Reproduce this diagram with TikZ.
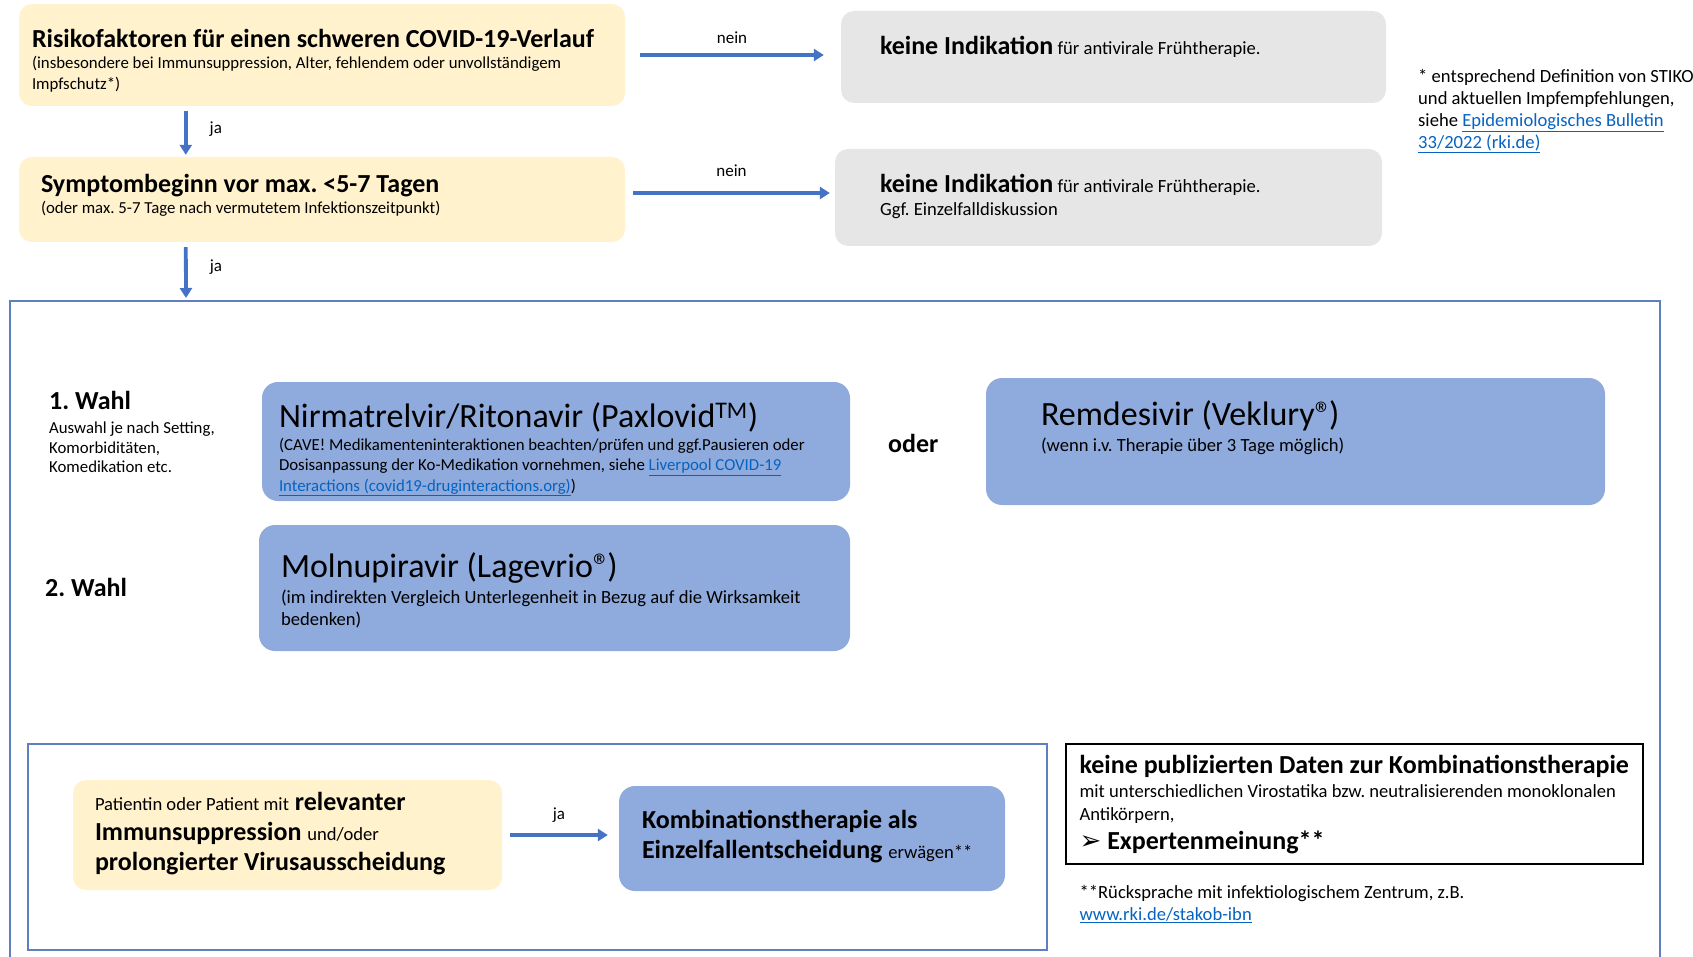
\documentclass[tikz,border=0pt]{standalone}
\usepackage{fontspec}
\setmainfont{Carlito}
\newfontfamily\symfont{DejaVu Sans}
\usepackage{pgf,tikz}
\usetikzlibrary{arrows.meta, positioning}
\frenchspacing
\definecolor{gelb}{HTML}{FFF2CC}
\definecolor{grau}{HTML}{E7E6E6}
\definecolor{hellblau}{HTML}{8FAADC}
\definecolor{pfeilblau}{HTML}{4472C4}
\definecolor{rahmenblau}{HTML}{5F7FC0}
\definecolor{linkblau}{HTML}{0563C1}
\newcommand{\klein}{\fontsize{16.8}{20.5}\selectfont}
\newcommand{\normal}{\fontsize{18.6}{22}\selectfont}
\newcommand{\mittel}{\fontsize{26}{30}\selectfont\bfseries}
\newcommand{\gross}{\fontsize{34}{40}\selectfont}
\newcommand{\verweis}[1]{\textcolor{linkblau}{\underline{#1}}}
\tikzstyle{gelbbox} = [fill=gelb, rounded corners=13pt, inner sep=0pt]
\tikzstyle{graubox} = [fill=grau, rounded corners=13pt, inner sep=0pt]
\tikzstyle{blaubox} = [fill=hellblau, rounded corners=16pt, inner sep=0pt]
\tikzstyle{txt} = [inner sep=0pt, anchor=west]
\tikzstyle{block} = [inner sep=0pt, anchor=north west, align=left]
\tikzstyle{pfeil} = [draw=pfeilblau, line width=3.8pt, -{Triangle[length=10pt, width=12pt]}]
\tikzstyle{rahmen} = [draw=rahmenblau, line width=1.2pt]
\tikzstyle{beschriftung} = [font=\fontsize{17}{20}\selectfont, inner sep=0pt]

\begin{document}
\begin{tikzpicture}[x=1pt, y=-1pt]
	\useasboundingbox (0,0) rectangle (1693,957);
	% Abfrage oben
	\node[gelbbox, minimum width=606pt, minimum height=102pt] (risk) at (322,55) {};
	\node[txt, font=\mittel] (risktitel) at ([shift={(13,35)}]risk.north west) {Risikofaktoren für einen schweren COVID-19-Verlauf};
	\node[block, font=\klein] (risksub) at ([shift={(13,52.5)}]risk.north west) {(insbesondere bei Immunsuppression, Alter, fehlendem oder unvollständigem\\Impfschutz*)};
	\node[gelbbox, minimum width=606pt, minimum height=85pt] (symp) at (322,199.5) {};
	\node[txt, font=\mittel] (symptitel) at ([shift={(22,29)}]symp.north west) {Symptombeginn vor max. <5-7 Tagen};
	\node[txt, font=\klein] (sympsub) at ([shift={(22,52)}]symp.north west) {(oder max. 5-7 Tage nach vermutetem Infektionszeitpunkt)};
	\node[graubox, minimum width=545pt, minimum height=92pt] (nein1) at (1113.5,57) {};
	\node[txt, font=\normal] (nein1txt) at ([shift={(39,36)}]nein1.north west) {{\mittel keine Indikation} für antivirale Frühtherapie.};
	\node[graubox, minimum width=547pt, minimum height=97pt] (nein2) at (1108.5,197.5) {};
	\node[txt, font=\normal] (nein2txt) at ([shift={(45,36)}]nein2.north west) {{\mittel keine Indikation} für antivirale Frühtherapie.};
	\node[txt, font=\normal] (nein2sub) at ([shift={(45,62)}]nein2.north west) {Ggf. Einzelfalldiskussion};
	\node[block, font=\normal] (stiko) at (1418,69) {* entsprechend Definition von STIKO\\und aktuellen Impfempfehlungen,\\siehe \verweis{Epidemiologisches Bulletin}\\\verweis{33/2022 (rki.de)}};
	\coordinate (wahloben) at (186,298);
	\draw[pfeil] ([shift={(167,5)}]risk.south west) -- ([shift={(167,-2)}]symp.north west) node[beschriftung, pos=0.4, right=22pt] (ja1) {ja};
	\draw[pfeil] ([shift={(167,5)}]symp.south west) -- (wahloben) node[beschriftung, pos=0.4, right=22pt] (ja2) {ja};
	\draw[pfeil] ([xshift=15pt]risk.east) -- ([xshift=-17pt]risk.east -| nein1.west) node[beschriftung, midway, above=9pt] (neinlab1) {nein};
	\draw[pfeil] ([shift={(8,-6.5)}]symp.east) -- ([shift={(-5,-6.5)}]symp.east -| nein2.west) node[beschriftung, midway, above=14pt] (neinlab2) {nein};
	% Therapie
	\draw[rahmen] (10,957) -- (10,301) -- (1660,301) -- (1660,957);
	\node[txt, font=\mittel] (wahl1) at (49,400) {1. Wahl};
	\node[block, font=\fontsize{16.8}{19.5}\selectfont] (wahl1sub) at (49,422) {Auswahl je nach Setting,\\Komorbiditäten,\\Komedikation etc.};
	\node[txt, font=\mittel] (wahl2) at (45,587) {2. Wahl};
	\node[blaubox, minimum width=588pt, minimum height=119pt] (pax) at (556,441.5) {};
	\node[txt, font=\gross] (paxtitel) at ([shift={(17,36)}]pax.north west) {Nirmatrelvir/Ritonavir (Paxlovid\textsuperscript{TM})};
	\node[block, font=\klein] (paxsub) at ([shift={(17,56)}]pax.north west) {(CAVE! Medikamenteninteraktionen beachten/prüfen und ggf.Pausieren oder\\Dosisanpassung der Ko-Medikation vornehmen, siehe \verweis{Liverpool COVID-19}\\\verweis{Interactions (covid19-druginteractions.org)})};
	\node[txt, font=\mittel] (oder) at (888,443) {oder};
	\node[blaubox, minimum width=619pt, minimum height=127pt] (remd) at (1295.5,441.5) {};
	\node[txt, font=\gross] (remdtitel) at ([shift={(55,38)}]remd.north west) {Remdesivir (Veklury®\kern-3pt)};
	\node[txt, font=\normal] (remdsub) at ([shift={(55,68)}]remd.north west) {(wenn i.v. Therapie über 3 Tage möglich)};
	\node[blaubox, minimum width=591pt, minimum height=126pt] (moln) at (554.5,588) {};
	\node[txt, font=\gross] (molntitel) at ([shift={(22,43)}]moln.north west) {Molnupiravir (Lagevrio®\kern-3pt)};
	\node[block, font=\fontsize{18.6}{21.6}\selectfont] (molnsub) at ([shift={(22,65)}]moln.north west) {(im indirekten Vergleich Unterlegenheit in Bezug auf die Wirksamkeit\\bedenken)};
	% Kombination
	\node[rahmen, minimum width=1019pt, minimum height=206pt, inner sep=0pt] (kombirahmen) at (537.5,847) {};
	\node[gelbbox, minimum width=429pt, minimum height=110pt] (immun) at (287.5,835) {};
	\node[block, font=\fontsize{26}{30}\selectfont] (immuntxt) at ([shift={(22,12.5)}]immun.north west) {{\normal Patientin oder Patient mit} \textbf{relevanter}\\\textbf{Immunsuppression} {\normal und/oder}\\\textbf{prolongierter Virusausscheidung}};
	\node[blaubox, minimum width=386pt, minimum height=105pt] (kombi) at (812,838.5) {};
	\node[block, font=\fontsize{26}{30}\selectfont\bfseries] (kombitxt) at ([shift={(23,24)}]kombi.north west) {Kombinationstherapie als\\Einzelfallentscheidung {\normal\mdseries erwägen**}};
	\draw[pfeil] ([xshift=8pt]immun.east) -- ([xshift=-11pt]immun.east -| kombi.west) node[beschriftung, midway, above=11pt] (ja3) {ja};
	\node[draw=black, line width=1.2pt, minimum width=577pt, minimum height=120pt, inner sep=0pt] (daten) at (1354.5,804) {};
	\node[txt, font=\mittel] (datentitel) at ([shift={(14,23)}]daten.north west) {keine publizierten Daten zur Kombinationstherapie};
	\node[block, font=\fontsize{18.6}{22.7}\selectfont] (datensub) at ([shift={(14,41)}]daten.north west) {mit unterschiedlichen Virostatika bzw. neutralisierenden monoklonalen\\Antikörpern,};
	\node[txt, font=\mittel] (experten) at ([shift={(14,99)}]daten.north west) {{\symfont ➢} Expertenmeinung**};
	\node[block, font=\fontsize{18.6}{21.6}\selectfont] (rueck) at ([shift={(14,142)}]daten.north west) {**Rücksprache mit infektiologischem Zentrum, z.B.\\\verweis{www.rki.de/stakob-ibn}};
\end{tikzpicture}
\end{document}
